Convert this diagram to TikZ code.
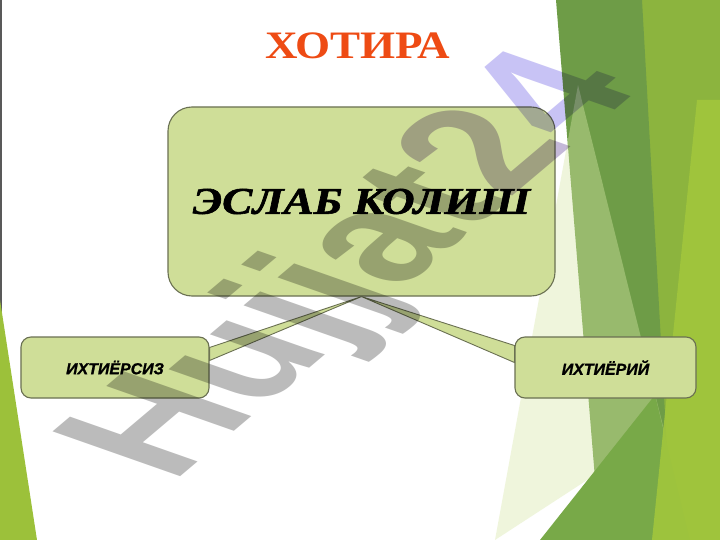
\documentclass[tikz,border=0pt]{standalone}
\usepackage{fontspec}
\setmainfont{Liberation Serif}
\newfontfamily\sansB{Liberation Sans}
\newfontface\heavyBI{Liberation Serif Bold Italic}[FakeBold=1.5]
\newfontface\heavySansBI{Liberation Sans Bold Italic}[FakeBold=1]
\usetikzlibrary{calc}
\definecolor{boxfill}{HTML}{CFDE98}
\definecolor{boxline}{HTML}{6A7052}
\definecolor{titlecol}{HTML}{EE4B14}
\definecolor{dkgreen}{HTML}{6E9C47}
\definecolor{ltgreen}{HTML}{8CB43E}
\definecolor{brgreen}{HTML}{A2C63C}
\definecolor{mdgreen}{HTML}{78A948}
\definecolor{lfgreen}{HTML}{9CC13A}
\definecolor{palegreen}{HTML}{D8E8A8}
\definecolor{wmgray}{HTML}{BBBBBB}
\definecolor{wmmauve}{HTML}{C4B8D8}
\definecolor{wmlav}{HTML}{C8C3F5}
\pgfdeclarelayer{deco}
\pgfdeclarelayer{wedges}
\pgfsetlayers{deco,wedges,main}
\begin{document}
\begin{tikzpicture}[x=1bp,y=-1bp,
  bigbox/.style={draw=boxline, line width=1.1bp, fill=boxfill, rounded corners=24bp, minimum width=387bp, minimum height=189bp, inner sep=0pt},
  smallbox/.style={draw=boxline, line width=1.1bp, fill=boxfill, rounded corners=10bp, minimum height=61bp, inner sep=0pt},
  wedge/.style={draw=boxline, line width=0.9bp, fill=boxfill, line join=miter},
  smalltext/.style={font=\heavySansBI\fontsize{16}{16}\selectfont}]
\useasboundingbox (0,0) rectangle (720,540);
\begin{pgfonlayer}{deco}
\fill[white] (0,0) rectangle (720,540);
\fill[ltgreen] (640,0) -- (720,0) -- (720,540) -- (640,540) -- cycle;
\fill[dkgreen] (556,0) -- (642,0) -- (672,540) -- (600,540) -- cycle;
\fill[palegreen, opacity=0.4] (578,85) -- (664,430) -- (495,540) -- cycle;
\fill[mdgreen] (540,540) -- (655,395) -- (690,540) -- cycle;
\fill[brgreen, opacity=0.9] (697,100) -- (720,100) -- (720,540) -- (652,540) -- cycle;
\draw[line width=2bp, gray!70!black] (1,0) -- (1,540);
\fill[lfgreen] (0,300) -- (37,540) -- (0,540) -- cycle;
\end{pgfonlayer}

\node[text=titlecol, font=\bfseries\fontsize{39}{39}\selectfont] (title) at (357.5,46) {\scalebox{1.16}[1]{ХОТИРА}};
\node[bigbox] (main) at (361.5,201.5) {\heavyBI\fontsize{38}{38}\selectfont\scalebox{1.19}[1]{ЭСЛАБ КОЛИШ}};
\node[smallbox, minimum width=188bp, smalltext] (left) at (115,367.5) {ИХТИЁРСИЗ};
\node[smallbox, minimum width=181bp, smalltext] (right) at (605.5,367.5) {ИХТИЁРИЙ};

\begin{pgfonlayer}{wedges}
\filldraw[wedge] (main.south) -- ($(left.east)+(0,-20)$) -- ($(left.east)+(0,-7)$) -- cycle;
\filldraw[wedge] (main.south) -- ($(right.west)+(0,-22)$) -- ($(right.west)+(0,-5)$) -- cycle;
\end{pgfonlayer}

\begin{scope}[shift={(172,484)}, cm={0.81,0.684,-1.241,0.436,(0,0)}, blend mode=multiply]
\node[anchor=base west, inner sep=0pt, transform shape, font=\sansB\bfseries\fontsize{150}{150}\selectfont] (wm) at (0,0) {\textcolor{wmgray}{Hujjat}\textcolor{wmmauve}{2}\textcolor{wmlav}{4}};
\end{scope}
\end{tikzpicture}
\end{document}
